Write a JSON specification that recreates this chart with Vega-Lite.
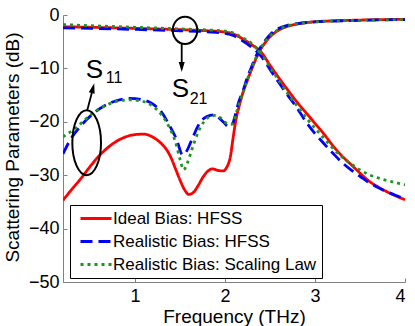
{
  "$schema": "https://vega.github.io/schema/vega-lite/v6.json",
  "width": 342,
  "height": 267,
  "autosize": {"type": "none"},
  "padding": {"left": 63, "top": 15, "right": 10, "bottom": 44},
  "config": {
    "view": {"stroke": null},
    "font": "Liberation Sans",
    "axis": {
      "grid": false,
      "domainColor": "#808080",
      "domainWidth": 1,
      "tickColor": "#808080",
      "tickSize": -4,
      "labelFont": "Liberation Sans",
      "labelFontSize": 18,
      "labelColor": "black",
      "titleFont": "Liberation Sans",
      "titleFontSize": 19,
      "titleFontWeight": "normal",
      "titleColor": "black"
    }
  },
  "datasets": {
    "curves": [
      {"s": "Ideal Bias: HFSS", "p": "S11", "f": 0.2, "db": -34.7},
      {"s": "Ideal Bias: HFSS", "p": "S11", "f": 0.3, "db": -32.6},
      {"s": "Ideal Bias: HFSS", "p": "S11", "f": 0.4, "db": -30.6},
      {"s": "Ideal Bias: HFSS", "p": "S11", "f": 0.5, "db": -28.4},
      {"s": "Ideal Bias: HFSS", "p": "S11", "f": 0.6, "db": -26.4},
      {"s": "Ideal Bias: HFSS", "p": "S11", "f": 0.7, "db": -24.8},
      {"s": "Ideal Bias: HFSS", "p": "S11", "f": 0.8, "db": -23.6},
      {"s": "Ideal Bias: HFSS", "p": "S11", "f": 0.9, "db": -22.8},
      {"s": "Ideal Bias: HFSS", "p": "S11", "f": 1.0, "db": -22.4},
      {"s": "Ideal Bias: HFSS", "p": "S11", "f": 1.1, "db": -22.3},
      {"s": "Ideal Bias: HFSS", "p": "S11", "f": 1.2, "db": -22.9},
      {"s": "Ideal Bias: HFSS", "p": "S11", "f": 1.3, "db": -24.2},
      {"s": "Ideal Bias: HFSS", "p": "S11", "f": 1.35, "db": -25.2},
      {"s": "Ideal Bias: HFSS", "p": "S11", "f": 1.4, "db": -26.7},
      {"s": "Ideal Bias: HFSS", "p": "S11", "f": 1.45, "db": -28.8},
      {"s": "Ideal Bias: HFSS", "p": "S11", "f": 1.5, "db": -30.9},
      {"s": "Ideal Bias: HFSS", "p": "S11", "f": 1.55, "db": -32.7},
      {"s": "Ideal Bias: HFSS", "p": "S11", "f": 1.6, "db": -33.6},
      {"s": "Ideal Bias: HFSS", "p": "S11", "f": 1.65, "db": -33.2},
      {"s": "Ideal Bias: HFSS", "p": "S11", "f": 1.7, "db": -32.0},
      {"s": "Ideal Bias: HFSS", "p": "S11", "f": 1.75, "db": -30.5},
      {"s": "Ideal Bias: HFSS", "p": "S11", "f": 1.8, "db": -29.4},
      {"s": "Ideal Bias: HFSS", "p": "S11", "f": 1.86, "db": -28.8},
      {"s": "Ideal Bias: HFSS", "p": "S11", "f": 1.92, "db": -29.1},
      {"s": "Ideal Bias: HFSS", "p": "S11", "f": 1.98, "db": -29.2},
      {"s": "Ideal Bias: HFSS", "p": "S11", "f": 2.02, "db": -28.5},
      {"s": "Ideal Bias: HFSS", "p": "S11", "f": 2.06, "db": -26.5},
      {"s": "Ideal Bias: HFSS", "p": "S11", "f": 2.09, "db": -23.0},
      {"s": "Ideal Bias: HFSS", "p": "S11", "f": 2.12, "db": -19.8},
      {"s": "Ideal Bias: HFSS", "p": "S11", "f": 2.16, "db": -16.9},
      {"s": "Ideal Bias: HFSS", "p": "S11", "f": 2.2, "db": -14.5},
      {"s": "Ideal Bias: HFSS", "p": "S11", "f": 2.25, "db": -12.2},
      {"s": "Ideal Bias: HFSS", "p": "S11", "f": 2.3, "db": -10.0},
      {"s": "Ideal Bias: HFSS", "p": "S11", "f": 2.35, "db": -8.0},
      {"s": "Ideal Bias: HFSS", "p": "S11", "f": 2.4, "db": -6.3},
      {"s": "Ideal Bias: HFSS", "p": "S11", "f": 2.45, "db": -5.1},
      {"s": "Ideal Bias: HFSS", "p": "S11", "f": 2.5, "db": -4.1},
      {"s": "Ideal Bias: HFSS", "p": "S11", "f": 2.6, "db": -2.8},
      {"s": "Ideal Bias: HFSS", "p": "S11", "f": 2.7, "db": -2.1},
      {"s": "Ideal Bias: HFSS", "p": "S11", "f": 2.8, "db": -1.7},
      {"s": "Ideal Bias: HFSS", "p": "S11", "f": 3.0, "db": -1.25},
      {"s": "Ideal Bias: HFSS", "p": "S11", "f": 3.2, "db": -1.1},
      {"s": "Ideal Bias: HFSS", "p": "S11", "f": 3.5, "db": -0.95},
      {"s": "Ideal Bias: HFSS", "p": "S11", "f": 4.0, "db": -0.8},

      {"s": "Ideal Bias: HFSS", "p": "S21", "f": 0.2, "db": -2.2},
      {"s": "Ideal Bias: HFSS", "p": "S21", "f": 0.5, "db": -2.3},
      {"s": "Ideal Bias: HFSS", "p": "S21", "f": 1.0, "db": -2.5},
      {"s": "Ideal Bias: HFSS", "p": "S21", "f": 1.5, "db": -2.75},
      {"s": "Ideal Bias: HFSS", "p": "S21", "f": 1.8, "db": -2.95},
      {"s": "Ideal Bias: HFSS", "p": "S21", "f": 2.0, "db": -3.2},
      {"s": "Ideal Bias: HFSS", "p": "S21", "f": 2.1, "db": -3.6},
      {"s": "Ideal Bias: HFSS", "p": "S21", "f": 2.2, "db": -4.5},
      {"s": "Ideal Bias: HFSS", "p": "S21", "f": 2.3, "db": -5.6},
      {"s": "Ideal Bias: HFSS", "p": "S21", "f": 2.4, "db": -6.9},
      {"s": "Ideal Bias: HFSS", "p": "S21", "f": 2.5, "db": -9.4},
      {"s": "Ideal Bias: HFSS", "p": "S21", "f": 2.6, "db": -11.8},
      {"s": "Ideal Bias: HFSS", "p": "S21", "f": 2.7, "db": -14.1},
      {"s": "Ideal Bias: HFSS", "p": "S21", "f": 2.8, "db": -16.3},
      {"s": "Ideal Bias: HFSS", "p": "S21", "f": 2.9, "db": -18.3},
      {"s": "Ideal Bias: HFSS", "p": "S21", "f": 3.0, "db": -20.3},
      {"s": "Ideal Bias: HFSS", "p": "S21", "f": 3.1, "db": -22.3},
      {"s": "Ideal Bias: HFSS", "p": "S21", "f": 3.2, "db": -24.5},
      {"s": "Ideal Bias: HFSS", "p": "S21", "f": 3.3, "db": -26.4},
      {"s": "Ideal Bias: HFSS", "p": "S21", "f": 3.4, "db": -28.0},
      {"s": "Ideal Bias: HFSS", "p": "S21", "f": 3.5, "db": -29.6},
      {"s": "Ideal Bias: HFSS", "p": "S21", "f": 3.6, "db": -31.1},
      {"s": "Ideal Bias: HFSS", "p": "S21", "f": 3.7, "db": -32.2},
      {"s": "Ideal Bias: HFSS", "p": "S21", "f": 3.8, "db": -33.1},
      {"s": "Ideal Bias: HFSS", "p": "S21", "f": 3.9, "db": -33.9},
      {"s": "Ideal Bias: HFSS", "p": "S21", "f": 4.0, "db": -34.6},

      {"s": "Realistic Bias: HFSS", "p": "S11", "f": 0.2, "db": -26.0},
      {"s": "Realistic Bias: HFSS", "p": "S11", "f": 0.28, "db": -23.4},
      {"s": "Realistic Bias: HFSS", "p": "S11", "f": 0.39, "db": -20.9},
      {"s": "Realistic Bias: HFSS", "p": "S11", "f": 0.54, "db": -18.4},
      {"s": "Realistic Bias: HFSS", "p": "S11", "f": 0.72, "db": -16.5},
      {"s": "Realistic Bias: HFSS", "p": "S11", "f": 0.85, "db": -15.8},
      {"s": "Realistic Bias: HFSS", "p": "S11", "f": 0.94, "db": -15.6},
      {"s": "Realistic Bias: HFSS", "p": "S11", "f": 1.09, "db": -15.9},
      {"s": "Realistic Bias: HFSS", "p": "S11", "f": 1.2, "db": -16.7},
      {"s": "Realistic Bias: HFSS", "p": "S11", "f": 1.3, "db": -18.3},
      {"s": "Realistic Bias: HFSS", "p": "S11", "f": 1.38, "db": -20.6},
      {"s": "Realistic Bias: HFSS", "p": "S11", "f": 1.46, "db": -23.2},
      {"s": "Realistic Bias: HFSS", "p": "S11", "f": 1.53, "db": -26.2},
      {"s": "Realistic Bias: HFSS", "p": "S11", "f": 1.58, "db": -25.3},
      {"s": "Realistic Bias: HFSS", "p": "S11", "f": 1.63, "db": -23.4},
      {"s": "Realistic Bias: HFSS", "p": "S11", "f": 1.72, "db": -20.2},
      {"s": "Realistic Bias: HFSS", "p": "S11", "f": 1.8, "db": -19.0},
      {"s": "Realistic Bias: HFSS", "p": "S11", "f": 1.87, "db": -18.7},
      {"s": "Realistic Bias: HFSS", "p": "S11", "f": 1.93, "db": -19.2},
      {"s": "Realistic Bias: HFSS", "p": "S11", "f": 1.98, "db": -20.0},
      {"s": "Realistic Bias: HFSS", "p": "S11", "f": 2.04, "db": -20.9},
      {"s": "Realistic Bias: HFSS", "p": "S11", "f": 2.08, "db": -20.5},
      {"s": "Realistic Bias: HFSS", "p": "S11", "f": 2.11, "db": -19.0},
      {"s": "Realistic Bias: HFSS", "p": "S11", "f": 2.15, "db": -16.4},
      {"s": "Realistic Bias: HFSS", "p": "S11", "f": 2.2, "db": -14.2},
      {"s": "Realistic Bias: HFSS", "p": "S11", "f": 2.25, "db": -11.6},
      {"s": "Realistic Bias: HFSS", "p": "S11", "f": 2.3, "db": -9.5},
      {"s": "Realistic Bias: HFSS", "p": "S11", "f": 2.35, "db": -7.5},
      {"s": "Realistic Bias: HFSS", "p": "S11", "f": 2.4, "db": -5.9},
      {"s": "Realistic Bias: HFSS", "p": "S11", "f": 2.45, "db": -4.7},
      {"s": "Realistic Bias: HFSS", "p": "S11", "f": 2.5, "db": -3.7},
      {"s": "Realistic Bias: HFSS", "p": "S11", "f": 2.6, "db": -2.5},
      {"s": "Realistic Bias: HFSS", "p": "S11", "f": 2.7, "db": -1.9},
      {"s": "Realistic Bias: HFSS", "p": "S11", "f": 2.85, "db": -1.5},
      {"s": "Realistic Bias: HFSS", "p": "S11", "f": 3.0, "db": -1.3},
      {"s": "Realistic Bias: HFSS", "p": "S11", "f": 3.5, "db": -1.0},
      {"s": "Realistic Bias: HFSS", "p": "S11", "f": 4.0, "db": -0.85},

      {"s": "Realistic Bias: HFSS", "p": "S21", "f": 0.2, "db": -2.4},
      {"s": "Realistic Bias: HFSS", "p": "S21", "f": 0.5, "db": -2.5},
      {"s": "Realistic Bias: HFSS", "p": "S21", "f": 1.0, "db": -2.7},
      {"s": "Realistic Bias: HFSS", "p": "S21", "f": 1.5, "db": -2.95},
      {"s": "Realistic Bias: HFSS", "p": "S21", "f": 1.8, "db": -3.15},
      {"s": "Realistic Bias: HFSS", "p": "S21", "f": 2.0, "db": -3.45},
      {"s": "Realistic Bias: HFSS", "p": "S21", "f": 2.1, "db": -3.9},
      {"s": "Realistic Bias: HFSS", "p": "S21", "f": 2.2, "db": -4.9},
      {"s": "Realistic Bias: HFSS", "p": "S21", "f": 2.3, "db": -6.1},
      {"s": "Realistic Bias: HFSS", "p": "S21", "f": 2.4, "db": -7.7},
      {"s": "Realistic Bias: HFSS", "p": "S21", "f": 2.5, "db": -10.2},
      {"s": "Realistic Bias: HFSS", "p": "S21", "f": 2.6, "db": -12.7},
      {"s": "Realistic Bias: HFSS", "p": "S21", "f": 2.7, "db": -15.1},
      {"s": "Realistic Bias: HFSS", "p": "S21", "f": 2.8, "db": -17.4},
      {"s": "Realistic Bias: HFSS", "p": "S21", "f": 2.9, "db": -20.0},
      {"s": "Realistic Bias: HFSS", "p": "S21", "f": 3.0, "db": -22.2},
      {"s": "Realistic Bias: HFSS", "p": "S21", "f": 3.1, "db": -24.1},
      {"s": "Realistic Bias: HFSS", "p": "S21", "f": 3.2, "db": -25.9},
      {"s": "Realistic Bias: HFSS", "p": "S21", "f": 3.3, "db": -27.6},
      {"s": "Realistic Bias: HFSS", "p": "S21", "f": 3.4, "db": -29.0},
      {"s": "Realistic Bias: HFSS", "p": "S21", "f": 3.5, "db": -30.2},
      {"s": "Realistic Bias: HFSS", "p": "S21", "f": 3.6, "db": -31.4},
      {"s": "Realistic Bias: HFSS", "p": "S21", "f": 3.7, "db": -32.3},
      {"s": "Realistic Bias: HFSS", "p": "S21", "f": 3.8, "db": -33.1},
      {"s": "Realistic Bias: HFSS", "p": "S21", "f": 3.9, "db": -33.8},
      {"s": "Realistic Bias: HFSS", "p": "S21", "f": 4.0, "db": -34.4},

      {"s": "Realistic Bias: Scaling Law", "p": "S11", "f": 0.2, "db": -22.8},
      {"s": "Realistic Bias: Scaling Law", "p": "S11", "f": 0.33, "db": -21.3},
      {"s": "Realistic Bias: Scaling Law", "p": "S11", "f": 0.48, "db": -19.1},
      {"s": "Realistic Bias: Scaling Law", "p": "S11", "f": 0.6, "db": -17.6},
      {"s": "Realistic Bias: Scaling Law", "p": "S11", "f": 0.72, "db": -16.6},
      {"s": "Realistic Bias: Scaling Law", "p": "S11", "f": 0.85, "db": -16.0},
      {"s": "Realistic Bias: Scaling Law", "p": "S11", "f": 0.95, "db": -15.9},
      {"s": "Realistic Bias: Scaling Law", "p": "S11", "f": 1.09, "db": -16.2},
      {"s": "Realistic Bias: Scaling Law", "p": "S11", "f": 1.2, "db": -17.1},
      {"s": "Realistic Bias: Scaling Law", "p": "S11", "f": 1.3, "db": -18.8},
      {"s": "Realistic Bias: Scaling Law", "p": "S11", "f": 1.38, "db": -21.0},
      {"s": "Realistic Bias: Scaling Law", "p": "S11", "f": 1.45, "db": -23.8},
      {"s": "Realistic Bias: Scaling Law", "p": "S11", "f": 1.5, "db": -27.0},
      {"s": "Realistic Bias: Scaling Law", "p": "S11", "f": 1.54, "db": -29.0},
      {"s": "Realistic Bias: Scaling Law", "p": "S11", "f": 1.58, "db": -27.8},
      {"s": "Realistic Bias: Scaling Law", "p": "S11", "f": 1.63, "db": -25.3},
      {"s": "Realistic Bias: Scaling Law", "p": "S11", "f": 1.7, "db": -22.0},
      {"s": "Realistic Bias: Scaling Law", "p": "S11", "f": 1.77, "db": -19.9},
      {"s": "Realistic Bias: Scaling Law", "p": "S11", "f": 1.85, "db": -18.9},
      {"s": "Realistic Bias: Scaling Law", "p": "S11", "f": 1.9, "db": -18.8},
      {"s": "Realistic Bias: Scaling Law", "p": "S11", "f": 1.96, "db": -19.4},
      {"s": "Realistic Bias: Scaling Law", "p": "S11", "f": 2.02, "db": -20.3},
      {"s": "Realistic Bias: Scaling Law", "p": "S11", "f": 2.07, "db": -20.5},
      {"s": "Realistic Bias: Scaling Law", "p": "S11", "f": 2.1, "db": -19.8},
      {"s": "Realistic Bias: Scaling Law", "p": "S11", "f": 2.14, "db": -17.5},
      {"s": "Realistic Bias: Scaling Law", "p": "S11", "f": 2.2, "db": -14.6},
      {"s": "Realistic Bias: Scaling Law", "p": "S11", "f": 2.25, "db": -12.0},
      {"s": "Realistic Bias: Scaling Law", "p": "S11", "f": 2.3, "db": -9.8},
      {"s": "Realistic Bias: Scaling Law", "p": "S11", "f": 2.35, "db": -7.8},
      {"s": "Realistic Bias: Scaling Law", "p": "S11", "f": 2.4, "db": -6.1},
      {"s": "Realistic Bias: Scaling Law", "p": "S11", "f": 2.45, "db": -4.9},
      {"s": "Realistic Bias: Scaling Law", "p": "S11", "f": 2.5, "db": -3.9},
      {"s": "Realistic Bias: Scaling Law", "p": "S11", "f": 2.6, "db": -2.7},
      {"s": "Realistic Bias: Scaling Law", "p": "S11", "f": 2.7, "db": -2.0},
      {"s": "Realistic Bias: Scaling Law", "p": "S11", "f": 2.85, "db": -1.55},
      {"s": "Realistic Bias: Scaling Law", "p": "S11", "f": 3.0, "db": -1.3},
      {"s": "Realistic Bias: Scaling Law", "p": "S11", "f": 3.5, "db": -1.0},
      {"s": "Realistic Bias: Scaling Law", "p": "S11", "f": 4.0, "db": -0.85},

      {"s": "Realistic Bias: Scaling Law", "p": "S21", "f": 0.2, "db": -1.8},
      {"s": "Realistic Bias: Scaling Law", "p": "S21", "f": 0.5, "db": -2.0},
      {"s": "Realistic Bias: Scaling Law", "p": "S21", "f": 1.0, "db": -2.3},
      {"s": "Realistic Bias: Scaling Law", "p": "S21", "f": 1.5, "db": -2.6},
      {"s": "Realistic Bias: Scaling Law", "p": "S21", "f": 1.8, "db": -2.8},
      {"s": "Realistic Bias: Scaling Law", "p": "S21", "f": 2.0, "db": -3.0},
      {"s": "Realistic Bias: Scaling Law", "p": "S21", "f": 2.1, "db": -3.4},
      {"s": "Realistic Bias: Scaling Law", "p": "S21", "f": 2.2, "db": -4.3},
      {"s": "Realistic Bias: Scaling Law", "p": "S21", "f": 2.3, "db": -5.4},
      {"s": "Realistic Bias: Scaling Law", "p": "S21", "f": 2.4, "db": -7.2},
      {"s": "Realistic Bias: Scaling Law", "p": "S21", "f": 2.5, "db": -9.8},
      {"s": "Realistic Bias: Scaling Law", "p": "S21", "f": 2.6, "db": -12.3},
      {"s": "Realistic Bias: Scaling Law", "p": "S21", "f": 2.7, "db": -14.8},
      {"s": "Realistic Bias: Scaling Law", "p": "S21", "f": 2.8, "db": -17.0},
      {"s": "Realistic Bias: Scaling Law", "p": "S21", "f": 2.9, "db": -19.2},
      {"s": "Realistic Bias: Scaling Law", "p": "S21", "f": 3.0, "db": -21.2},
      {"s": "Realistic Bias: Scaling Law", "p": "S21", "f": 3.1, "db": -23.1},
      {"s": "Realistic Bias: Scaling Law", "p": "S21", "f": 3.2, "db": -25.0},
      {"s": "Realistic Bias: Scaling Law", "p": "S21", "f": 3.3, "db": -26.6},
      {"s": "Realistic Bias: Scaling Law", "p": "S21", "f": 3.4, "db": -27.9},
      {"s": "Realistic Bias: Scaling Law", "p": "S21", "f": 3.5, "db": -29.0},
      {"s": "Realistic Bias: Scaling Law", "p": "S21", "f": 3.6, "db": -29.9},
      {"s": "Realistic Bias: Scaling Law", "p": "S21", "f": 3.7, "db": -30.5},
      {"s": "Realistic Bias: Scaling Law", "p": "S21", "f": 3.8, "db": -31.0},
      {"s": "Realistic Bias: Scaling Law", "p": "S21", "f": 3.9, "db": -31.4},
      {"s": "Realistic Bias: Scaling Law", "p": "S21", "f": 4.0, "db": -31.8}
    ],
    "ellS11": [{"f": 0.463, "db": -23.9}],
    "ellS21": [{"f": 1.556, "db": -2.87}],
    "arrows": [
      {"f": 0.47, "db": -17.8, "f2": 0.528, "db2": -14.1},
      {"f": 1.519, "db": -5.4, "f2": 1.519, "db2": -9.6}
    ],
    "headS11": [{"f": 0.533, "db": -13.7}],
    "headS21": [{"f": 1.519, "db": -9.75}],
    "bigS": [
      {"f": 0.452, "db": -11.8, "t": "S"},
      {"f": 1.407, "db": -15.4, "t": "S"}
    ],
    "subs": [
      {"f": 0.675, "db": -12.8, "t": "11"},
      {"f": 1.607, "db": -16.6, "t": "21"}
    ]
  },
  "layer": [
    {
      "data": {"name": "curves"},
      "mark": {"type": "line", "strokeWidth": 2.8, "interpolate": "monotone", "clip": true},
      "encoding": {
        "x": {
          "field": "f", "type": "quantitative",
          "scale": {"domain": [0.2, 4], "nice": false, "zero": false},
          "axis": {"values": [1, 2, 3, 4], "format": "d", "title": "Frequency (THz)", "labelPadding": 9, "titleY": 40, "titleBaseline": "alphabetic"}
        },
        "y": {
          "field": "db", "type": "quantitative",
          "scale": {"domain": [-50, 0], "nice": false, "zero": false},
          "axis": {"values": [0, -10, -20, -30, -40, -50], "format": "d", "title": "Scattering Parameters (dB)", "labelPadding": 8, "titleX": -51, "titleY": 132, "titleBaseline": "middle", "titleAngle": -90}
        },
        "color": {
          "field": "s", "type": "nominal", "title": null,
          "scale": {
            "domain": ["Ideal Bias: HFSS", "Realistic Bias: HFSS", "Realistic Bias: Scaling Law"],
            "range": ["#ff0000", "#0000ff", "#1e961e"]
          },
          "legend": {
            "orient": "none", "legendX": 7, "legendY": 190, "direction": "vertical",
            "fillColor": "white", "strokeColor": "black", "padding": 5, "cornerRadius": 0,
            "symbolType": "M-0.6,0H5.6", "symbolSize": 100, "symbolStrokeWidth": 3,
            "labelFontSize": 17, "labelFont": "Liberation Sans", "labelColor": "black",
            "labelLimit": 400, "rowPadding": 5, "labelOffset": 21
          }
        },
        "strokeDash": {
          "field": "s", "type": "nominal", "title": null,
          "scale": {
            "domain": ["Ideal Bias: HFSS", "Realistic Bias: HFSS", "Realistic Bias: Scaling Law"],
            "range": [[1, 0], [12, 6], [3, 4]]
          }
        },
        "detail": {"field": "p", "type": "nominal"}
      }
    },
    {
      "data": {"name": "ellS11"},
      "mark": {"type": "point", "shape": "M0,-1A0.4415,1,0,1,1,0,1A0.4415,1,0,1,1,0,-1Z", "size": 4225, "filled": false, "stroke": "black", "strokeWidth": 2, "opacity": 1},
      "encoding": {"x": {"field": "f", "type": "quantitative"}, "y": {"field": "db", "type": "quantitative"}}
    },
    {
      "data": {"name": "ellS21"},
      "mark": {"type": "point", "shape": "M0,-1A0.9,1,0,1,1,0,1A0.9,1,0,1,1,0,-1Z", "size": 745, "filled": false, "stroke": "black", "strokeWidth": 2, "opacity": 1},
      "encoding": {"x": {"field": "f", "type": "quantitative"}, "y": {"field": "db", "type": "quantitative"}}
    },
    {
      "data": {"name": "arrows"},
      "mark": {"type": "rule", "stroke": "black", "strokeWidth": 1.8},
      "encoding": {
        "x": {"field": "f", "type": "quantitative"},
        "y": {"field": "db", "type": "quantitative"},
        "x2": {"field": "f2"},
        "y2": {"field": "db2"}
      }
    },
    {
      "data": {"name": "headS11"},
      "mark": {"type": "point", "shape": "M0,-1L0.6,1L-0.6,1Z", "size": 100, "filled": true, "fill": "black", "opacity": 1, "angle": 14.7},
      "encoding": {"x": {"field": "f", "type": "quantitative"}, "y": {"field": "db", "type": "quantitative"}}
    },
    {
      "data": {"name": "headS21"},
      "mark": {"type": "point", "shape": "M0,-1L0.6,1L-0.6,1Z", "size": 100, "filled": true, "fill": "black", "opacity": 1, "angle": 180},
      "encoding": {"x": {"field": "f", "type": "quantitative"}, "y": {"field": "db", "type": "quantitative"}}
    },
    {
      "data": {"name": "bigS"},
      "mark": {"type": "text", "align": "left", "baseline": "alphabetic", "fontSize": 26, "font": "Liberation Sans", "color": "black"},
      "encoding": {"x": {"field": "f", "type": "quantitative"}, "y": {"field": "db", "type": "quantitative"}, "text": {"field": "t"}}
    },
    {
      "data": {"name": "subs"},
      "mark": {"type": "text", "align": "left", "baseline": "alphabetic", "fontSize": 16, "font": "Liberation Sans", "color": "black"},
      "encoding": {"x": {"field": "f", "type": "quantitative"}, "y": {"field": "db", "type": "quantitative"}, "text": {"field": "t"}}
    }
  ]
}
